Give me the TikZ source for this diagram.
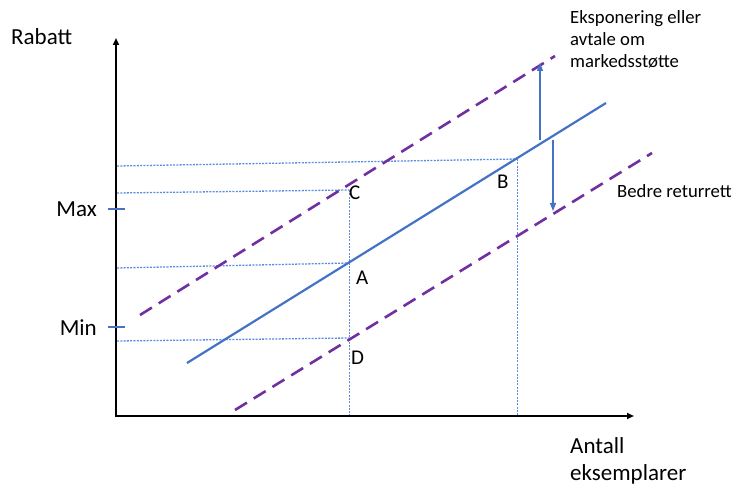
\documentclass[tikz,border=0pt]{standalone}
\usepackage{fontspec}
\setmainfont{Carlito}
\usetikzlibrary{arrows.meta}
\definecolor{offblue}{HTML}{4472C4}
\definecolor{guideblue}{HTML}{5B8BE0}
\definecolor{offpurple}{HTML}{7030A0}
\tikzset{
  axis/.style={line width=1.8pt,-{Triangle[length=7pt,width=6pt]}},
  guide/.style={guideblue,line width=1.3pt,dash pattern=on 2pt off 1.3pt},
  main/.style={offblue,line width=2.2pt},
  shifted/.style={offpurple,line width=2.6pt,dash pattern=on 14pt off 8pt},
  shiftarrow/.style={offblue,line width=1.2pt,-{Triangle[length=8pt,width=6pt]}},
  tick/.style={offblue,line width=2pt},
  big/.style={inner sep=0pt,font=\fontsize{23}{28}\selectfont},
  pt/.style={inner sep=0pt,font=\fontsize{21}{25}\selectfont},
  small/.style={inner sep=0pt,font=\fontsize{18.7}{22}\selectfont,align=left},
}
\begin{document}
\begin{tikzpicture}[x=1pt,y=-1pt]
\useasboundingbox (0,0) rectangle (736,486);
% points
\coordinate (O) at (116,416);
\coordinate (Ytip) at (116,38);
\coordinate (Xtip) at (634,416);
\coordinate (L1) at (187,363);
\coordinate (L2) at (606,103);
\coordinate (U1) at (140,315);
\coordinate (U2) at (555,56);
\coordinate (D1) at (235,410);
\coordinate (D2) at (652,153);
\coordinate (pA) at (349.5,263);
\coordinate (pB) at (517.5,159);
\coordinate (pC) at (349.5,190);
\coordinate (pD) at (349.5,338);
\coordinate (yA) at (117,268);
\coordinate (yB) at (117,166);
\coordinate (yC) at (117,193);
\coordinate (yD) at (117,341);
\coordinate (xA) at (349.5,415);
\coordinate (xB) at (517.5,415);
\coordinate (up0) at (540,140);
\coordinate (up1) at (540,63);
\coordinate (dn0) at (553,140);
\coordinate (dn1) at (553,211);
\coordinate (tMax0) at (108,209);
\coordinate (tMax1) at (125,209);
\coordinate (tMin0) at (108,327);
\coordinate (tMin1) at (125,327);
% guides
\draw[guide] (yB) -- (pB);
\draw[guide] (yC) -- (pC);
\draw[guide] (yA) -- (pA);
\draw[guide] (yD) -- (pD);
\draw[guide] (pC) -- (xA);
\draw[guide] (pB) -- (xB);
% axes
\draw[axis] (O) -- (Ytip);
\draw[axis] ([xshift=-0.9pt]O) -- (Xtip);
\draw[tick] (tMax0) -- (tMax1);
\draw[tick] (tMin0) -- (tMin1);
% lines
\draw[shifted] (U1) -- (U2);
\draw[shifted] (D1) -- (D2);
\draw[main] (L1) -- (L2);
\draw[shiftarrow] (up0) -- (up1);
\draw[shiftarrow] (dn0) -- (dn1);
% labels
\node[big,anchor=base west] (rabatt) at (11,45) {Rabatt};
\node[big,anchor=base east] (max) at (97,217) {Max};
\node[big,anchor=base east] (min) at (97,335) {Min};
\node[pt,anchor=base west] (lC) at (349,200) {C};
\node[pt,anchor=base west] (lA) at (356,285) {A};
\node[pt,anchor=base west] (lD) at (351,364) {D};
\node[pt,anchor=base west] (lB) at (497,189) {B};
\node[small,anchor=base west] (eks) at (570,68) {Eksponering eller\\avtale om\\markedsstøtte};
\node[small,anchor=base west] (ret) at (617,198) {Bedre returrett};
\node[big,anchor=base west,align=left,font=\fontsize{23}{27}\selectfont] (ant) at (570,480) {Antall\\eksemplarer};
\end{tikzpicture}
\end{document}
